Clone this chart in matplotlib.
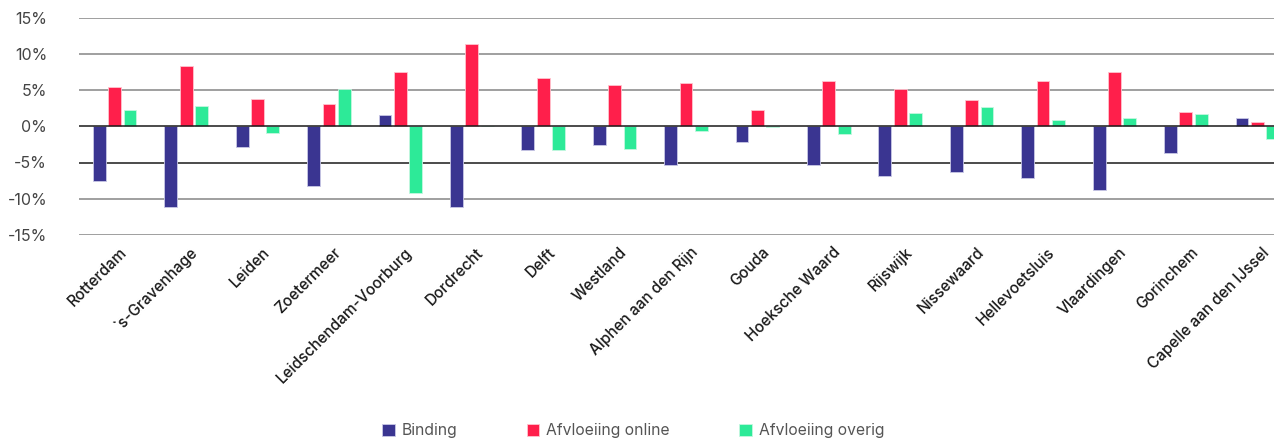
import matplotlib.pyplot as plt
import numpy as np

plt.rcParams['font.family'] = ['Inter', 'DejaVu Sans']

gemeenten = ['Rotterdam', "`s-Gravenhage", 'Leiden', 'Zoetermeer', 'Leidschendam-Voorburg',
             'Dordrecht', 'Delft', 'Westland', 'Alphen aan den Rijn', 'Gouda', 'Hoeksche Waard',
             'Rijswijk', 'Nissewaard', 'Hellevoetsluis', 'Vlaardingen', 'Gorinchem',
             'Capelle aan den IJssel']
binding = [-7.6, -11.2, -2.9, -8.3, 1.6, -11.2, -3.3, -2.6, -5.4, -2.2, -5.3,
           -6.9, -6.3, -7.2, -8.8, -3.7, 1.1]
online = [5.4, 8.3, 3.7, 3.1, 7.5, 11.3, 6.6, 5.7, 6.0, 2.3, 6.2,
          5.1, 3.6, 6.2, 7.5, 1.9, 0.6]
overig = [2.2, 2.8, -0.9, 5.1, -9.2, 0.0, -3.3, -3.2, -0.6, -0.1, -1.0,
          1.8, 2.7, 0.9, 1.2, 1.7, -1.7]
yticks = [-15, -10, -5, 0, 5, 10, 15]

c_bind = '#3A3591'
c_online = '#FF1F4B'
c_overig = '#2DEA98'

fig = plt.figure(figsize=(12.74, 4.41), dpi=100)
# axes runs past the right edge, just like the source picture
ax = fig.add_axes([79 / 1274, 1 - 235 / 441, 1214 / 1274, 217.5 / 441])

x = np.arange(len(gemeenten))
w = 0.18
off = 0.215
ax.bar(x - off, binding, w, color=c_bind, edgecolor='#c9c8e6', linewidth=0.6, label='Binding', zorder=3)
ax.bar(x, online, w, color=c_online, edgecolor='#ffc4cf', linewidth=0.6, label='Afvloeiing online', zorder=3)
ax.bar(x + off, overig, w, color=c_overig, edgecolor='#c4f7e0', linewidth=0.6, label='Afvloeiing overig', zorder=3)

for t in yticks:
    col = '#1a1a1a' if t in (0, -5) else '#858585'
    ax.axhline(t, color=col, lw=1.1, zorder=2 if t != 0 else 4)

ax.set_xlim(-0.5, len(gemeenten) - 0.5)
ax.set_ylim(-15, 15)
ax.set_yticks(yticks)
ax.set_yticklabels([f'{t}%' for t in yticks], color='#444444', fontsize=11.5)
ax.tick_params(axis='y', length=0, pad=23)

ax.set_xticks(x + 0.06)
ax.set_xticklabels(gemeenten, rotation=45, ha='right', rotation_mode='anchor',
                   fontsize=11, fontweight='medium', color='#1a1a1a')
ax.tick_params(axis='x', length=0, pad=7)

for s in ax.spines.values():
    s.set_visible(False)

fig.legend(loc='center', bbox_to_anchor=(0.497, 1 - 431 / 441), ncol=3, frameon=False,
           handlelength=0.8, handleheight=0.8, handletextpad=0.45, columnspacing=4.4,
           fontsize=11.3, labelcolor='#555555')

fig.savefig('out.png', dpi=100)
